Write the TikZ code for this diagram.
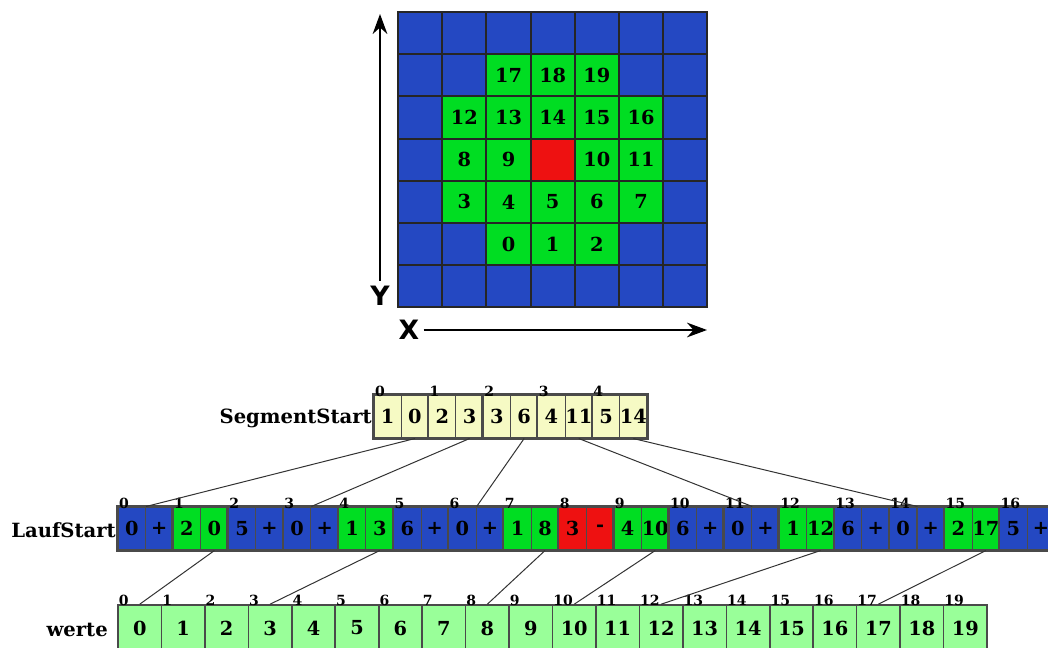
\documentclass[tikz,border=0pt]{standalone}
\usepackage{fontspec}
\setmainfont{DejaVu Serif}
\newfontfamily\axisfont{DejaVu Sans}
\usetikzlibrary{arrows.meta}
\definecolor{cb}{HTML}{2448C2}
\definecolor{cg}{HTML}{00DD22}
\definecolor{cr}{HTML}{EE1111}
\definecolor{cy}{HTML}{F6FAC4}
\definecolor{cw}{HTML}{99FF99}
\definecolor{edge}{HTML}{4A4A4A}
\newcommand\gridrow[2]{%
  \foreach \s/\t [count=\c from 0] in {#2} {
    \node[gcell, fill=c\s] (g-#1-\c) at ({398+44.2*\c+22.1},{12+42.2*#1+21.1}) {\t};
  }}
\begin{document}
\begin{tikzpicture}[x=0.75pt,y=-0.75pt,font=\bfseries,
  gcell/.style={draw=black!85, line width=1.4pt, minimum width=33.15pt, minimum height=31.65pt, inner sep=0pt, font=\bfseries\fontsize{14.5}{14.5}\selectfont},
  axisline/.style={line width=1.6pt, -{Stealth[length=15pt,width=11pt]}},
  axislab/.style={font=\axisfont\bfseries\fontsize{20}{20}\selectfont, inner sep=0pt},
  scell/.style={draw=edge, line width=0.8pt, fill=cy, minimum width=20.475pt, minimum height=32.25pt, inner sep=0pt, font=\bfseries\fontsize{14.5}{14.5}\selectfont},
  lcell/.style={draw=black!70, line width=0.8pt, minimum width=20.66pt, minimum height=32.25pt, inner sep=0pt, font=\bfseries\fontsize{14.5}{14.5}\selectfont},
  wcell/.style={draw=edge, line width=1.2pt, fill=cw, minimum width=32.59pt, minimum height=34.5pt, inner sep=0pt, font=\bfseries\fontsize{14.5}{14.5}\selectfont},
  pairbox/.style={draw=edge, line width=1.8pt},
  idx/.style={anchor=south west, inner sep=0pt, font=\bfseries\fontsize{10.5}{10.5}\selectfont},
  arrlab/.style={anchor=east, inner sep=0pt, font=\bfseries\fontsize{14.7}{14.7}\selectfont},
  conn/.style={draw=black!80, line width=0.75pt}]
\useasboundingbox (0,0) rectangle (1048,648);
% ---------- grid ----------
\gridrow{0}{b/{},b/{},b/{},b/{},b/{},b/{},b/{}}
\gridrow{1}{b/{},b/{},g/17,g/18,g/19,b/{},b/{}}
\gridrow{2}{b/{},g/12,g/13,g/14,g/15,g/16,b/{}}
\gridrow{3}{b/{},g/8,g/9,r/{},g/10,g/11,b/{}}
\gridrow{4}{b/{},g/3,g/4,g/5,g/6,g/7,b/{}}
\gridrow{5}{b/{},b/{},g/0,g/1,g/2,b/{},b/{}}
\gridrow{6}{b/{},b/{},b/{},b/{},b/{},b/{},b/{}}
% ---------- axes ----------
\node[axislab] (ylab) at (380,296) {Y};
\coordinate (ytop) at (380,14);
\draw[axisline] ([yshift=4pt]ylab.north) -- (ytop);
\node[axislab] (xlab) at (409,330) {X};
\coordinate (xend) at (707,330);
\draw[axisline] ([xshift=3pt]xlab.east) -- (xend);
% ---------- SegmentStart ----------
\node[arrlab] (slab) at (372,418) {SegmentStart};
\foreach \i/\a/\b in {0/1/0,1/2/3,2/3/6,3/4/11,4/5/14} {
  \node[scell] (s-\i-a) at ({374+54.6*\i+13.65},416.5) {\a};
  \node[scell] (s-\i-b) at ({374+54.6*\i+40.95},416.5) {\b};
  \draw[pairbox] (s-\i-a.north west) rectangle (s-\i-b.south east);
  \node[idx] (si-\i) at ([xshift=1pt,yshift=-1.5pt]s-\i-a.north west) {\i};
}
% ---------- LaufStart ----------
\node[arrlab] (llab) at (116,530) {LaufStart};
\foreach \i/\a/\b/\c in {0/0/+/b,1/2/0/g,2/5/+/b,3/0/+/b,4/1/3/g,5/6/+/b,6/0/+/b,7/1/8/g,8/3/-/r,9/4/10/g,10/6/+/b,11/0/+/b,12/1/12/g,13/6/+/b,14/0/+/b,15/2/17/g,16/5/+/b} {
  \node[lcell, fill=c\c] (l-\i-a) at ({118+55.1*\i+13.775},528.5) {\a};
  \node[lcell, fill=c\c] (l-\i-b) at ({118+55.1*\i+41.325},528.5) {\b};
  \draw[pairbox] (l-\i-a.north west) rectangle (l-\i-b.south east);
  \node[idx] (li-\i) at ([xshift=1pt,yshift=-1.5pt]l-\i-a.north west) {\i};
}
% ---------- werte ----------
\node[arrlab] (wlab) at (108,630) {werte};
\foreach \i in {0,...,19} {
  \node[wcell] (w-\i) at ({118+43.45*\i+21.725},628) {\i};
  \node[idx] (wi-\i) at ([xshift=1pt,yshift=-1.5pt]w-\i.north west) {\i};
}
% ---------- connectors ----------
\foreach \i/\j in {0/0,1/3,2/6,3/11,4/14}
  \draw[conn] (s-\i-b.south) -- (l-\j-a.north east);
\foreach \i/\j in {1/0,4/3,7/8,9/10,12/12,15/17}
  \draw[conn] (l-\i-b.south) -- (w-\j.north);
\end{tikzpicture}
\end{document}
